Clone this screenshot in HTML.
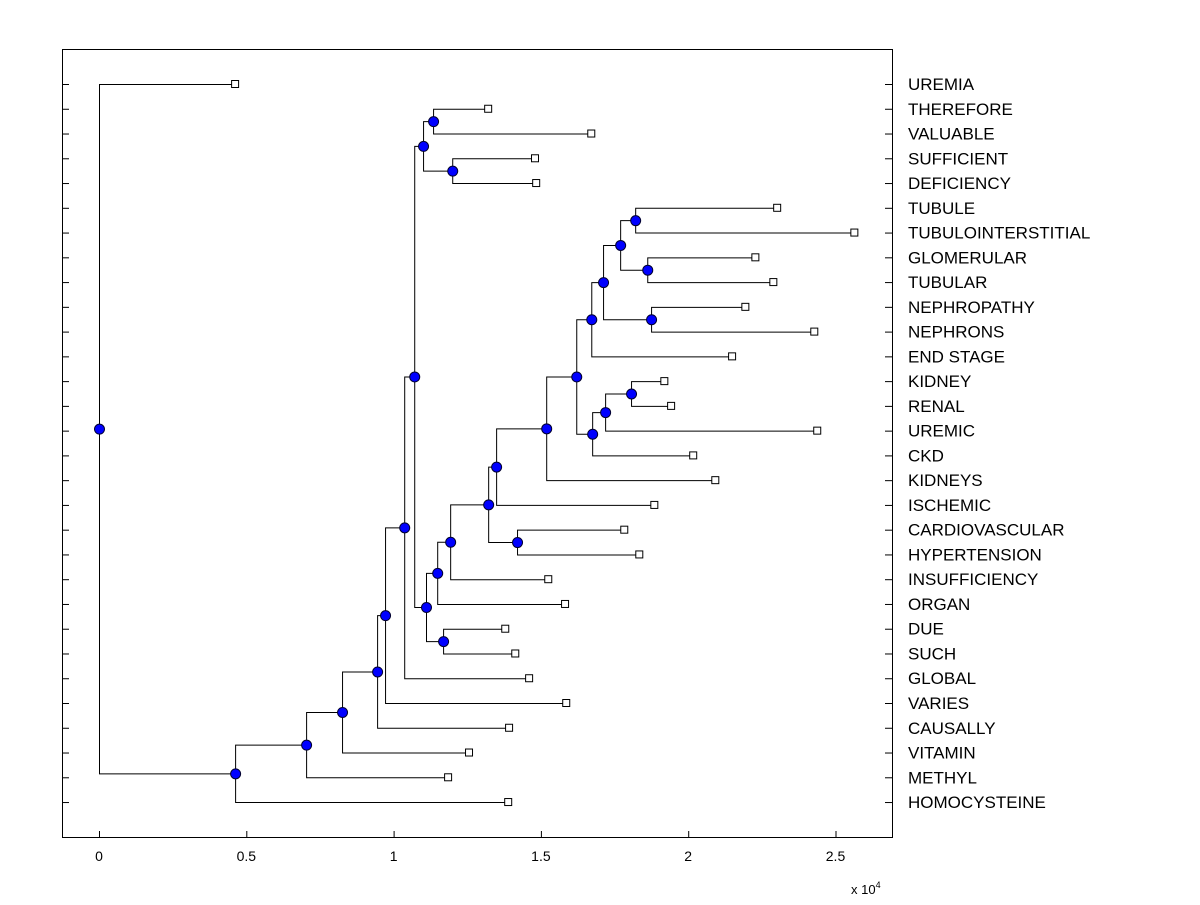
<!DOCTYPE html>
<html><head><meta charset="utf-8"><style>
body{margin:0;background:#fff;}
svg text{font-family:"Liberation Sans",Arial,sans-serif;}
</style></head><body>
<svg id="chart" width="1200" height="900" xmlns="http://www.w3.org/2000/svg">
<rect x="0" y="0" width="1200" height="900" fill="#fff"/>
<rect x="62.5" y="49.5" width="830" height="788" fill="none" stroke="#000" stroke-width="1"/>
<g id="links"></g><g id="marks"></g><g id="labels"></g><g id="ticks"></g>
<text x="851" y="894" font-size="13">x 10<tspan dy="-6" font-size="9">4</tspan></text>
</svg>
<script>
const leafNames=["UREMIA","THEREFORE","VALUABLE","SUFFICIENT","DEFICIENCY","TUBULE","TUBULOINTERSTITIAL","GLOMERULAR","TUBULAR","NEPHROPATHY","NEPHRONS","END STAGE","KIDNEY","RENAL","UREMIC","CKD","KIDNEYS","ISCHEMIC","CARDIOVASCULAR","HYPERTENSION","INSUFFICIENCY","ORGAN","DUE","SUCH","GLOBAL","VARIES","CAUSALLY","VITAMIN","METHYL","HOMOCYSTEINE"];
const leafValues=[0.462,1.321,1.671,1.480,1.484,2.302,2.564,2.228,2.289,2.194,2.428,2.149,1.919,1.942,2.438,2.017,2.092,1.885,1.783,1.834,1.525,1.582,1.379,1.413,1.460,1.586,1.392,1.256,1.185,1.389];
const nodeIds=["J","K","H","M","Q","Y","Z","W","X","V","T","BB","AA","U","S","R","P","O","L","N","I","G","F","E","D","C","B","A","root"];
const nodeLeft=["THEREFORE","SUFFICIENT","J","DUE","CARDIOVASCULAR","TUBULE","GLOMERULAR","Y","NEPHROPATHY","W","V","KIDNEY","BB","AA","T","S","R","P","O","L","N","H","G","F","E","D","C","B","UREMIA"];
const nodeRight=["VALUABLE","DEFICIENCY","K","SUCH","HYPERTENSION","TUBULOINTERSTITIAL","TUBULAR","Z","NEPHRONS","X","END STAGE","RENAL","UREMIC","CKD","U","KIDNEYS","ISCHEMIC","Q","INSUFFICIENCY","ORGAN","M","I","GLOBAL","VARIES","CAUSALLY","VITAMIN","METHYL","HOMOCYSTEINE","A"];
const nodeValues=[1.134,1.199,1.100,1.168,1.419,1.820,1.861,1.769,1.874,1.711,1.671,1.806,1.718,1.674,1.620,1.518,1.348,1.321,1.192,1.148,1.110,1.070,1.036,0.971,0.944,0.825,0.703,0.462,0];
const xTicks=[0,0.5,1,1.5,2,2.5];
const xTickLabels=["0","0.5","1","1.5","2","2.5"];

const NS="http://www.w3.org/2000/svg";
const xs=v=>99+v*294.6;
const ys=i=>84+i*24.76;
function mk(tag,attrs,parent){const e=document.createElementNS(NS,tag);for(const k in attrs)e.setAttribute(k,attrs[k]);document.getElementById(parent).appendChild(e);return e;}
const pos={};
leafNames.forEach((n,i)=>{pos[n]={x:xs(leafValues[i]),y:ys(i)};});
nodeIds.forEach((id,i)=>{
  const a=pos[nodeLeft[i]],b=pos[nodeRight[i]],x=xs(nodeValues[i]);
  pos[id]={x:x,y:(a.y+b.y)/2};
  const p=mk("path",{d:`M${a.x},${a.y+0.5}H${x+0.5}V${b.y+0.5}H${b.x}`,fill:"none",stroke:"#000","stroke-width":1},"links");
  
  
});
leafNames.forEach((n,i)=>{
  const p=pos[n];
  const r=mk("rect",{x:p.x-3.5,y:p.y-3.5,width:7,height:7,fill:"#fff",stroke:"#000","stroke-width":1},"marks");
  
  
  const t=mk("text",{x:908,y:ys(i)+6,"font-size":17},"labels");
  t.textContent=n;
  
  
  const tl=mk("line",{x1:62,x2:69,y1:ys(i)+0.5,y2:ys(i)+0.5,stroke:"#000"},"ticks");
  
  
  const tr=mk("line",{x1:885,x2:892,y1:ys(i)+0.5,y2:ys(i)+0.5,stroke:"#000"},"ticks");
  
  
});
nodeIds.forEach((id,i)=>{
  const p=pos[id];
  const c=mk("circle",{cx:p.x+0.5,cy:p.y+0.5,r:5,fill:"#0000ff",stroke:"#000030","stroke-width":1},"marks");
  
  
});
xTicks.forEach((v,i)=>{
  const x=xs(v);
  const t=mk("text",{x:x,y:861,"font-size":14,"text-anchor":"middle"},"ticks");
  t.textContent=xTickLabels[i];
  
  
  const l=mk("line",{x1:x+0.5,x2:x+0.5,y1:831,y2:837,stroke:"#000"},"ticks");
  
  
});
</script>
</body></html>
